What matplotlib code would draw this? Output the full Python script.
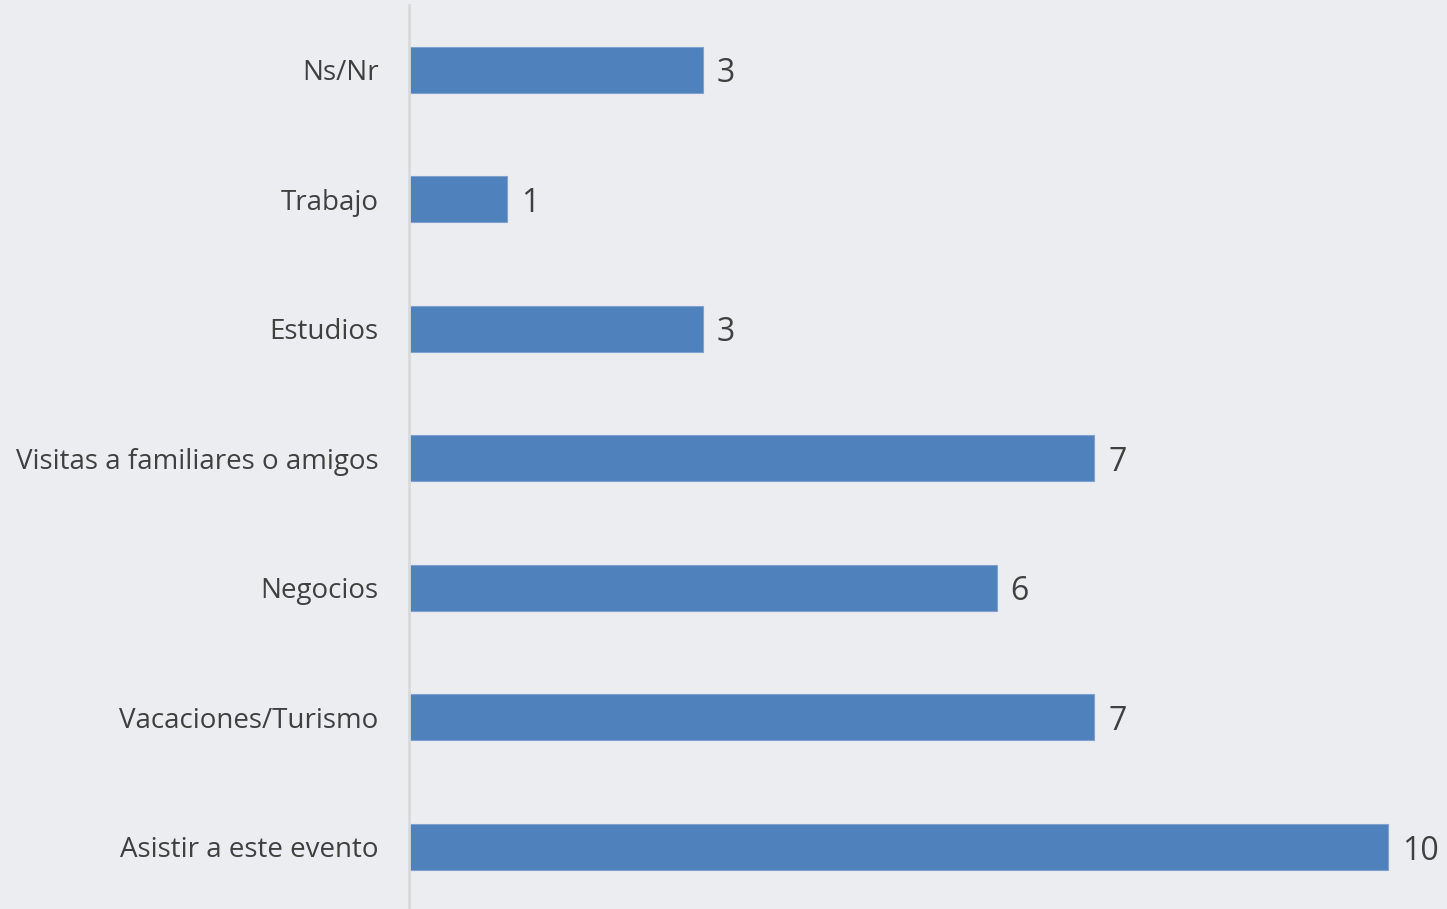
import matplotlib.pyplot as plt

categories = ["Asistir a este evento", "Vacaciones/Turismo", "Negocios",
              "Visitas a familiares o amigos", "Estudios", "Trabajo", "Ns/Nr"]
values = [10, 7, 6, 7, 3, 1, 3]

BG = "#ECEDF0"
BAR = "#4F81BD"
TXT = "#404040"

plt.rcParams["font.family"] = ["Open Sans", "DejaVu Sans"]

fig = plt.figure(figsize=(14.47, 9.09), dpi=100, facecolor=BG)
ax = fig.add_axes([409 / 1447, 0, 1 - 409 / 1447, 904 / 909], facecolor=BG)

y = range(len(categories))
ax.barh(y, values, height=0.355, color=BAR, edgecolor="#7FA2D0", linewidth=0.8)
for yi, v in zip(y, values):
    ax.annotate(str(v), (v, yi), xytext=(10, -3), textcoords="offset points",
                ha="left", va="center", fontsize=23, color=TXT)

ax.set_xlim(0, 10.6)
ax.set_ylim(-0.48, 6.5)
ax.set_yticks(list(y))
ax.set_yticklabels(categories, fontsize=20, color=TXT)
ax.tick_params(axis="y", length=0, pad=22)
ax.set_xticks([])
for s in ["top", "right", "bottom"]:
    ax.spines[s].set_visible(False)
ax.spines["left"].set_color("#D9D9D9")
ax.spines["left"].set_linewidth(2)

fig.savefig("out.png", dpi=100, facecolor=BG)
